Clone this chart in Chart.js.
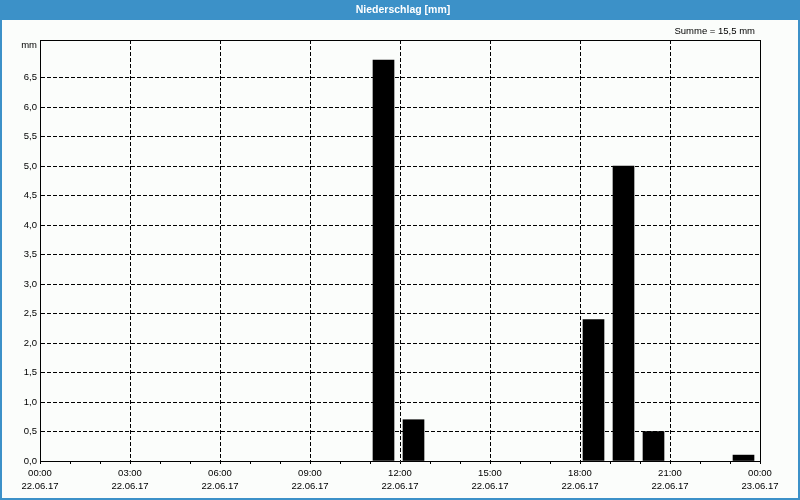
<!DOCTYPE html>
<html>
<head>
<meta charset="utf-8">
<script src="https://cdn.jsdelivr.net/npm/chart.js@4/dist/chart.umd.min.js"></script>
<style>
  html, body { margin: 0; padding: 0; background: #fbfdfb; }
  #wrap { position: absolute; left: 0; top: 0; width: 800px; height: 500px; }
</style>
</head>
<body>
<div id="wrap"><canvas id="c" width="800" height="500"></canvas></div>
<script>
// ---- data ----
const chartTitle = 'Niederschlag [mm]';
const sumLabel = 'Summe = 15,5 mm';
const unitLabel = 'mm';
const rainHours = [11, 12, 18, 19, 20, 23];          // hour slot of each bar
const rainValues = [6.8, 0.7, 2.4, 5.0, 0.5, 0.1];    // mm per hour
const tickHours = [0, 3, 6, 9, 12, 15, 18, 21, 24];
const tickTimes = ['00:00', '03:00', '06:00', '09:00', '12:00', '15:00', '18:00', '21:00', '00:00'];
const tickDates = ['22.06.17', '22.06.17', '22.06.17', '22.06.17', '22.06.17', '22.06.17', '22.06.17', '22.06.17', '23.06.17'];
const yTop = 7.14;

const BLUE = '#3c91c8';
const FONT = '"Liberation Sans", Arial, sans-serif';
const barOffset = 0.45;

const points = rainHours.map((h, i) => ({ x: h + barOffset, y: rainValues[i] }));

const framePlugin = {
  id: 'frame',
  beforeDraw(chart) {
    const ctx = chart.ctx;
    ctx.save();
    ctx.fillStyle = '#fbfdfb';
    ctx.fillRect(0, 0, 800, 500);
    ctx.fillStyle = BLUE;
    ctx.fillRect(0, 0, 800, 20);
    ctx.strokeStyle = BLUE;
    ctx.lineWidth = 2;
    ctx.strokeRect(1, 1, 798, 498);
    ctx.fillStyle = '#ffffff';
    ctx.font = 'bold 10.5px ' + FONT;
    ctx.textAlign = 'center';
    ctx.textBaseline = 'middle';
    ctx.fillText(chartTitle, 403, 10);
    ctx.fillStyle = '#000000';
    ctx.font = '9.5px ' + FONT;
    ctx.textAlign = 'right';
    ctx.fillText(sumLabel, 755, 31);
    ctx.fillText(unitLabel, 37, 45);
    ctx.restore();
  },
  afterDraw(chart) {
    const a = chart.chartArea;
    const ctx = chart.ctx;
    ctx.save();
    ctx.strokeStyle = '#000';
    ctx.lineWidth = 1;
    ctx.setLineDash([]);
    ctx.beginPath();
    ctx.moveTo(Math.round(a.left) + 0.5, Math.round(a.top) + 0.5);
    ctx.lineTo(Math.round(a.right) + 0.5, Math.round(a.top) + 0.5);
    ctx.lineTo(Math.round(a.right) + 0.5, Math.round(a.bottom) + 0.5);
    ctx.stroke();
    ctx.restore();
  }
};

new Chart(document.getElementById('c'), {
  type: 'bar',
  data: {
    datasets: [{
      data: points,
      backgroundColor: '#000000',
      borderWidth: 0,
      barThickness: 21
    }]
  },
  options: {
    responsive: false,
    animation: false,
    devicePixelRatio: 1,
    layout: { padding: { top: 40, right: 40, left: 0, bottom: 0 } },
    plugins: { legend: { display: false }, tooltip: { enabled: false }, title: { display: false } },
    scales: {
      x: {
        type: 'linear',
        min: 0, max: 24,
        offset: false,
        afterFit(s) { s.height = 39; },
        afterBuildTicks(s) {
          const t = [];
          for (let h = 0; h <= 24; h++) t.push({ value: h });
          s.ticks = t;
        },
        ticks: {
          autoSkip: false, maxRotation: 0, padding: 2,
          color: '#000',
          font: { family: FONT, size: 9.5, lineHeight: 1.45 },
          callback(v) {
            const i = tickHours.indexOf(v);
            return i >= 0 ? [tickTimes[i], tickDates[i]] : '';
          }
        },
        grid: {
          offset: false,
          color: (c) => (c.tick && c.tick.value % 3 === 0) ? '#000' : 'rgba(0,0,0,0)',
          lineWidth: 1,
          tickColor: '#000',
          tickLength: 3,
          drawTicks: true
        },
        border: { display: true, color: '#000', width: 1, dash: [4, 2] }
      },
      y: {
        min: 0, max: yTop,
        afterFit(s) { s.width = 40; },
        afterBuildTicks(s) {
          s.ticks = s.ticks.filter(t => t.value <= 7.0001);
        },
        ticks: {
          stepSize: 0.5, padding: 3,
          color: '#000',
          font: { family: FONT, size: 9.5 },
          callback(v) {
            if (Math.abs(v - 7) < 1e-6) return '';
            return v.toFixed(1).replace('.', ',');
          }
        },
        grid: { color: '#000', lineWidth: 1, drawTicks: false },
        border: { display: true, color: '#000', width: 1, dash: [4, 2] }
      }
    }
  },
  plugins: [framePlugin]
});
</script>
</body>
</html>
